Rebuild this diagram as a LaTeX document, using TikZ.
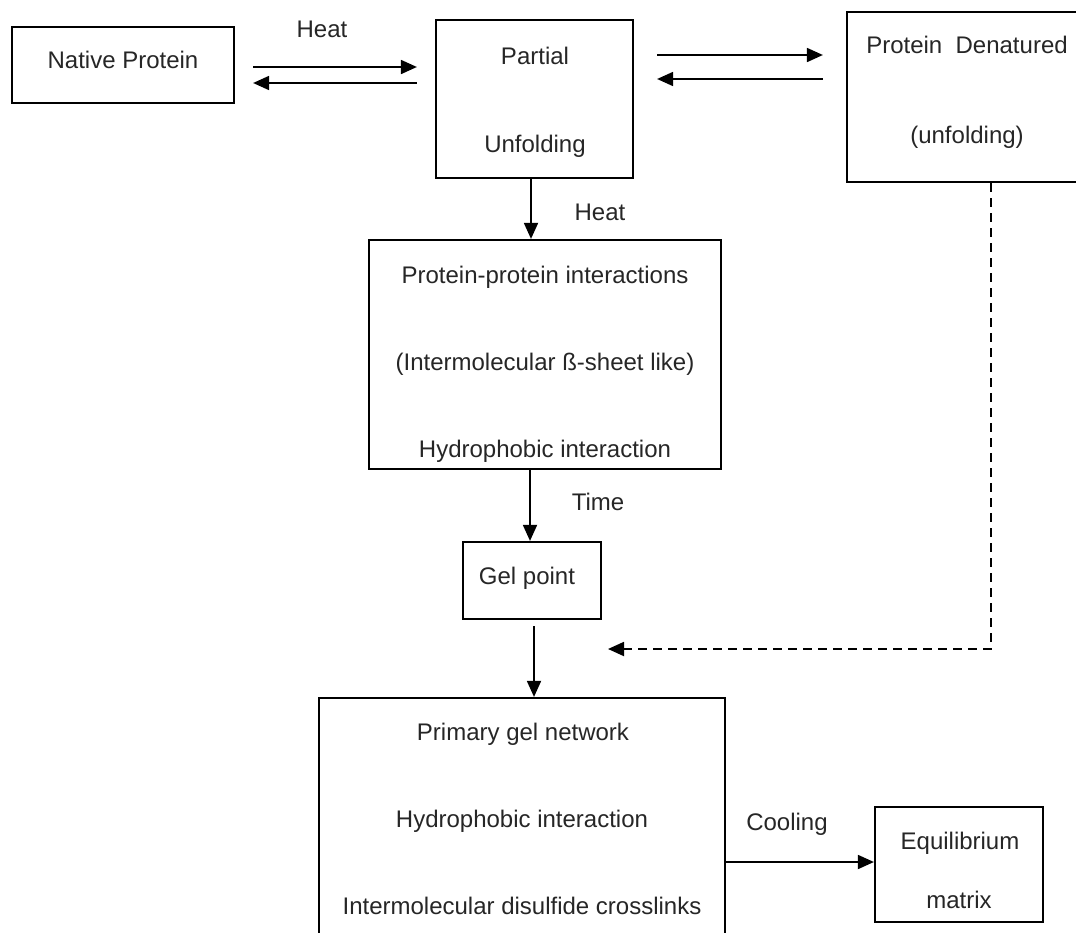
\documentclass[tikz,border=0pt]{standalone}
\usepackage{fontspec}
\setmainfont{Liberation Sans}
\usetikzlibrary{arrows.meta,calc}
\newcommand{\lblfont}{\fontsize{24}{28}\selectfont}
\tikzset{
  boxnode/.style args={#1x#2}{draw, line width=2.2pt, inner sep=0pt, minimum width=#1pt, minimum height=#2pt},
  lbl/.style={anchor=base, inner sep=0pt, font=\lblfont, text=black!85},
  arr/.style={line width=1.8pt, -{Triangle[length=16pt,width=14pt]}},
  dasharr/.style={arr, dash pattern=on 9pt off 6pt}
}
\begin{document}
\begin{tikzpicture}[x=1pt,y=-1pt]
\useasboundingbox (0,0) rectangle (1076,932);
\clip (0,0) rectangle (1076,932);
% boxes
\node[boxnode=222x76] (nat) at (123,65) {};
\node[boxnode=197x158] (par) at (534.5,99) {};
\node[boxnode=242x170] (den) at (968,97) {};
\node[boxnode=352x229] (pp) at (545,354.5) {};
\node[boxnode=138x77] (gel) at (532,580.5) {};
\node[boxnode=406x264] (pri) at (522,830) {};
\node[boxnode=168x115] (eq) at (959,864.5) {};
% texts
\node[lbl] (tnat) at (123,68) {Native Protein};
\node[lbl] (tpar1) at (535,64) {Partial};
\node[lbl] (tpar2) at (535,152) {Unfolding};
\node[lbl] (tden1) at (967,53) {Protein\ \ Denatured};
\node[lbl] (tden2) at (967,143) {(unfolding)};
\node[lbl] (tpp1) at (545,283) {Protein-protein interactions};
\node[lbl] (tpp2) at (545,370) {(Intermolecular ß-sheet like)};
\node[lbl] (tpp3) at (545,457) {Hydrophobic interaction};
\node[lbl] (tgel) at (527,584) {Gel point};
\node[lbl] (tpri1) at (523,740) {Primary gel network};
\node[lbl] (tpri2) at (522,827) {Hydrophobic interaction};
\node[lbl] (tpri3) at (522,914) {Intermolecular disulfide crosslinks};
\node[lbl] (teq1) at (960,849) {Equilibrium};
\node[lbl] (teq2) at (959,908) {matrix};
% edge labels
\node[lbl] (lheat1) at (322,37) {Heat};
\node[lbl] (lheat2) at (600,220) {Heat};
\node[lbl] (ltime) at (598,510) {Time};
\node[lbl] (lcool) at (787,830) {Cooling};
% connectors
\draw[arr, shorten <=18pt, shorten >=18pt] (nat.east |- 0,67) -- (par.west |- 0,67);
\draw[arr, shorten <=18pt, shorten >=18pt] (par.west |- 0,83) -- (nat.east |- 0,83);
\draw[arr, shorten <=23pt, shorten >=23pt] (par.east |- 0,55) -- (den.west |- 0,55);
\draw[arr, shorten <=23pt, shorten >=23pt] (den.west |- 0,79) -- (par.east |- 0,79);
\draw[arr] (par.south -| 531,0) -- (pp.north -| 531,0);
\draw[arr] (pp.south -| 530,0) -- (gel.north -| 530,0);
\draw[arr, shorten <=6pt] (gel.south -| 534,0) -- (pri.north -| 534,0);
\coordinate (dcorner) at (991,649);
\coordinate (dend) at (608,649);
\draw[dasharr] (den.south -| dcorner) -- (dcorner) -- (dend);
\draw[arr] (pri.east |- 0,862) -- (eq.west |- 0,862);
\end{tikzpicture}
\end{document}
